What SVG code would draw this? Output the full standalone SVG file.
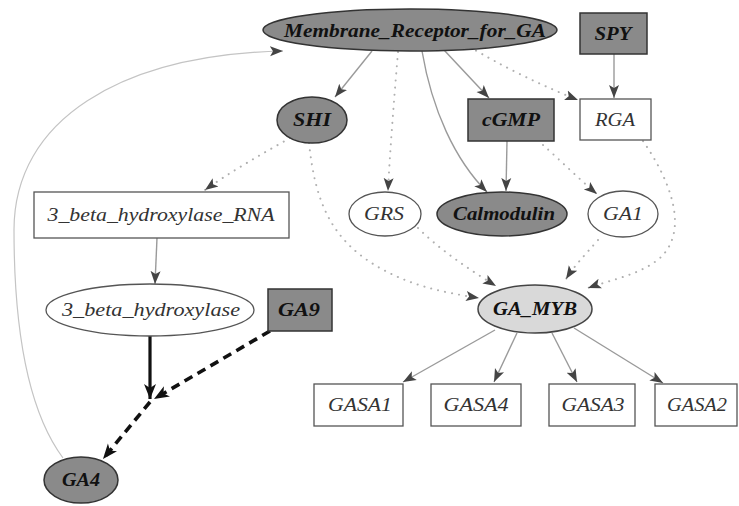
<svg xmlns="http://www.w3.org/2000/svg" width="739" height="506" viewBox="0 0 739 506">
  <style>
    .dark { fill: #8a8a8a; stroke: #333; stroke-width: 1.5; }
    .light { fill: #d9d9d9; stroke: #444; stroke-width: 1.5; }
    .white { fill: #fff; stroke: #555; stroke-width: 1.3; }
    text { font-family: "Liberation Serif", "Times New Roman", serif; font-style: italic; font-size: 18px; text-anchor: middle; }
    .b { font-weight: bold; fill: #111; }
    .r { fill: #333; }
    .solid { fill: none; stroke: #9a9a9a; stroke-width: 1.4; }
    .dot { fill: none; stroke: #b0b0b0; stroke-width: 2; stroke-dasharray: 0.1 7; stroke-linecap: round; }
    .faint { fill: none; stroke: #c4c4c4; stroke-width: 1.2; }
    .heavy { fill: none; stroke: #111; stroke-width: 3.2; }
    .heavydash { fill: none; stroke: #111; stroke-width: 3.6; stroke-dasharray: 9 6; }
  </style>
  <defs>
    <marker id="arr" markerUnits="userSpaceOnUse" markerWidth="14" markerHeight="12" viewBox="0 0 14 12" refX="13" refY="6" orient="auto">
      <path d="M0,1 L13,6 L0,11 L3,6 Z" fill="#444"/>
    </marker>
    <marker id="arrBlack" markerUnits="userSpaceOnUse" markerWidth="16" markerHeight="14" viewBox="0 0 16 14" refX="15" refY="7" orient="auto">
      <path d="M0,1 L15,7 L0,13 L4,7 Z" fill="#111"/>
    </marker>
  </defs>

  <g id="edges">
    <path class="faint" d="M63,458 C20,400 14,300 14,230 C14,120 120,55 283,51" marker-end="url(#arr)"/>
    <path class="solid" d="M372,51 L335,97" marker-end="url(#arr)"/>
    <path class="dot" d="M398,52 C394,100 390,150 388,191" marker-end="url(#arr)"/>
    <path class="solid" d="M422,51 C432,110 455,160 487,192" marker-end="url(#arr)"/>
    <path class="solid" d="M444,50 L489,98" marker-end="url(#arr)"/>
    <path class="dot" d="M470,47 C500,65 540,85 578,100" marker-end="url(#arr)"/>
    <path class="solid" d="M614,54 L614,98" marker-end="url(#arr)"/>
    <path class="solid" d="M507,141 L506,191" marker-end="url(#arr)"/>
    <path class="dot" d="M543,145 C560,160 580,180 597,194" marker-end="url(#arr)"/>
    <path class="dot" d="M290,138 C260,155 230,172 205,190" marker-end="url(#arr)"/>
    <path class="dot" d="M309,143 C315,200 330,240 380,268 C410,285 440,292 479,298" marker-end="url(#arr)"/>
    <path class="dot" d="M418,228 C440,250 470,270 496,286" marker-end="url(#arr)"/>
    <path class="dot" d="M598,240 C585,255 575,265 566,279" marker-end="url(#arr)"/>
    <path class="dot" d="M643,141 C670,180 690,230 660,258 C640,275 610,280 588,288" marker-end="url(#arr)"/>
    <path class="solid" d="M157,238 L155,284" marker-end="url(#arr)"/>
    <path class="solid" d="M495,330 L403,382" marker-end="url(#arr)"/>
    <path class="solid" d="M517,333 L494,382" marker-end="url(#arr)"/>
    <path class="solid" d="M552,333 L577,382" marker-end="url(#arr)"/>
    <path class="solid" d="M574,328 L663,383" marker-end="url(#arr)"/>
    <path class="heavy" d="M150,336 L150,399" marker-end="url(#arrBlack)"/>
    <path class="heavydash" d="M270,331 L154,399" marker-end="url(#arrBlack)"/>
    <path class="heavydash" d="M150,402 L103,459" marker-end="url(#arrBlack)"/>
  </g>

  <g id="membrane_receptor">
    <ellipse class="dark" cx="410" cy="30" rx="147" ry="21"/>
    <text class="b" x="415" y="37" textLength="262" lengthAdjust="spacingAndGlyphs">Membrane_Receptor_for_GA</text>
  </g>
  <g id="spy">
    <rect class="dark" x="580" y="13" width="67" height="41"/>
    <text class="b" x="613" y="40" textLength="37" lengthAdjust="spacingAndGlyphs">SPY</text>
  </g>
  <g id="shi">
    <ellipse class="dark" cx="312" cy="120" rx="35" ry="23"/>
    <text class="b" x="312" y="126" textLength="38" lengthAdjust="spacingAndGlyphs">SHI</text>
  </g>
  <g id="cgmp">
    <rect class="dark" x="468" y="99" width="86" height="42"/>
    <text class="b" x="511" y="126" textLength="58" lengthAdjust="spacingAndGlyphs">cGMP</text>
  </g>
  <g id="rga">
    <rect class="white" x="580" y="99" width="71" height="41"/>
    <text class="r" x="615" y="126" textLength="40" lengthAdjust="spacingAndGlyphs">RGA</text>
  </g>
  <g id="beta_hydroxylase_rna">
    <rect class="white" x="34" y="192" width="255" height="46"/>
    <text class="r" x="161" y="221" textLength="227" lengthAdjust="spacingAndGlyphs">3_beta_hydroxylase_RNA</text>
  </g>
  <g id="grs">
    <ellipse class="white" cx="385" cy="214" rx="36" ry="22"/>
    <text class="r" x="384" y="220" textLength="40" lengthAdjust="spacingAndGlyphs">GRS</text>
  </g>
  <g id="calmodulin">
    <ellipse class="dark" cx="502" cy="214" rx="65" ry="22"/>
    <text class="b" x="504" y="220" textLength="102" lengthAdjust="spacingAndGlyphs">Calmodulin</text>
  </g>
  <g id="ga1">
    <ellipse class="white" cx="623" cy="214" rx="35" ry="23"/>
    <text class="r" x="623" y="220" textLength="40" lengthAdjust="spacingAndGlyphs">GA1</text>
  </g>
  <g id="beta_hydroxylase">
    <ellipse class="white" cx="150" cy="310" rx="104" ry="26"/>
    <text class="r" x="151" y="316" textLength="178" lengthAdjust="spacingAndGlyphs">3_beta_hydroxylase</text>
  </g>
  <g id="ga9">
    <rect class="dark" x="268" y="289" width="64" height="42"/>
    <text class="b" x="299" y="316" textLength="42" lengthAdjust="spacingAndGlyphs">GA9</text>
  </g>
  <g id="ga_myb">
    <ellipse class="light" cx="535" cy="309" rx="57" ry="24"/>
    <text class="b" x="535" y="315" textLength="84" lengthAdjust="spacingAndGlyphs">GA_MYB</text>
  </g>
  <g id="gasa1">
    <rect class="white" x="314" y="384" width="89" height="42"/>
    <text class="r" x="360" y="411" textLength="64" lengthAdjust="spacingAndGlyphs">GASA1</text>
  </g>
  <g id="gasa4">
    <rect class="white" x="431" y="384" width="90" height="42"/>
    <text class="r" x="476" y="411" textLength="65" lengthAdjust="spacingAndGlyphs">GASA4</text>
  </g>
  <g id="gasa3">
    <rect class="white" x="549" y="384" width="86" height="42"/>
    <text class="r" x="593" y="411" textLength="63" lengthAdjust="spacingAndGlyphs">GASA3</text>
  </g>
  <g id="gasa2">
    <rect class="white" x="655" y="384" width="82" height="42"/>
    <text class="r" x="697" y="411" textLength="60" lengthAdjust="spacingAndGlyphs">GASA2</text>
  </g>
  <g id="ga4">
    <ellipse class="dark" cx="81" cy="480" rx="37" ry="23"/>
    <text class="b" x="81" y="486" textLength="38" lengthAdjust="spacingAndGlyphs">GA4</text>
  </g>
</svg>
